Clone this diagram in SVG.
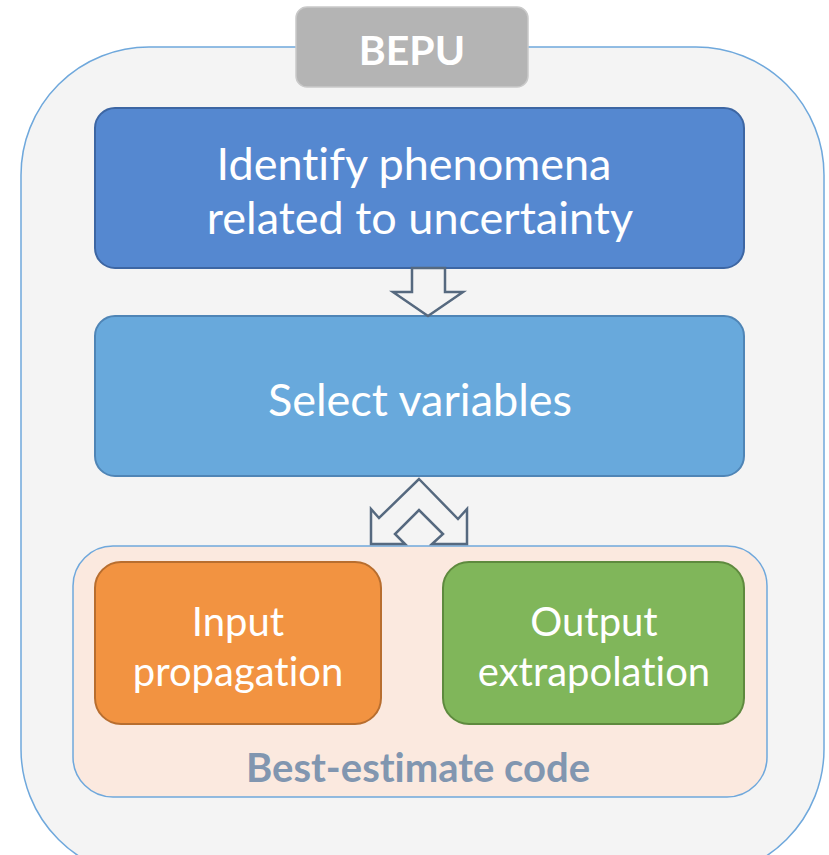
<svg xmlns="http://www.w3.org/2000/svg" width="829" height="855" viewBox="0 0 829 855">
<style>
.t{font-family:Lato,"Open Sans","Liberation Sans",sans-serif;fill:#fff;font-size:40px;text-anchor:middle;font-variant-ligatures:none;font-feature-settings:"liga" 0}
.l{font-size:45px}
.b{font-weight:bold}
</style>
<rect x="0" y="0" width="829" height="855" fill="#fff"/>
<g id="bepu-container">
<rect x="21" y="47" width="803" height="830" rx="128" fill="#f4f4f4" stroke="#6fa8dc" stroke-width="1.5"/>
</g>
<g id="bepu-tab">
<rect x="296" y="7" width="232" height="80" rx="11" fill="#b4b4b4" stroke="#c9c9c9" stroke-width="1.5"/>
<text class="t b" x="412" y="65" style="font-size:41px">BEPU</text>
</g>
<g id="identify">
<rect x="95" y="108" width="649" height="160" rx="20" fill="#5588d0" stroke="#3d66a3" stroke-width="2"/>
<text class="t l" x="414" y="180">Identify phenomena</text>
<text class="t l" x="420" y="234">related to uncertainty</text>
</g>
<g id="select">
<rect x="95" y="316" width="649" height="160" rx="20" fill="#68a9dc" stroke="#4f85b6" stroke-width="2"/>
<text class="t l" x="420" y="416">Select variables</text>
</g>
<g id="best-estimate">
<rect x="73" y="546" width="694" height="251" rx="40" fill="#fbe9df" stroke="#6fa8dc" stroke-width="1.5"/>
<text class="t b" x="418" y="782" style="fill:#8196b0;font-size:40px">Best-estimate code</text>
</g>
<g id="input">
<rect x="95" y="562" width="286" height="162" rx="26" fill="#f29341" stroke="#b86e2f" stroke-width="2"/>
<text class="t" x="238" y="636">Input</text>
<text class="t" x="238" y="686">propagation</text>
</g>
<g id="output">
<rect x="443" y="562" width="301" height="162" rx="26" fill="#80b65a" stroke="#5e8a3e" stroke-width="2"/>
<text class="t" x="594" y="636">Output</text>
<text class="t" x="594" y="686">extrapolation</text>
</g>
<g id="connectors" fill="#f4f4f4" stroke="#56697f" stroke-width="2.5" stroke-linejoin="miter">
<path d="M412,268 L445,268 L445,292 L463,292 L428,316 L393,292 L412,292 Z"/>
<path d="M419,479 L458,519 L467,509 L467,544 L432,544 L443,534 L419,510 L395,534 L405,544 L371,544 L371,509 L379,518 Z"/>
</g>
</svg>
